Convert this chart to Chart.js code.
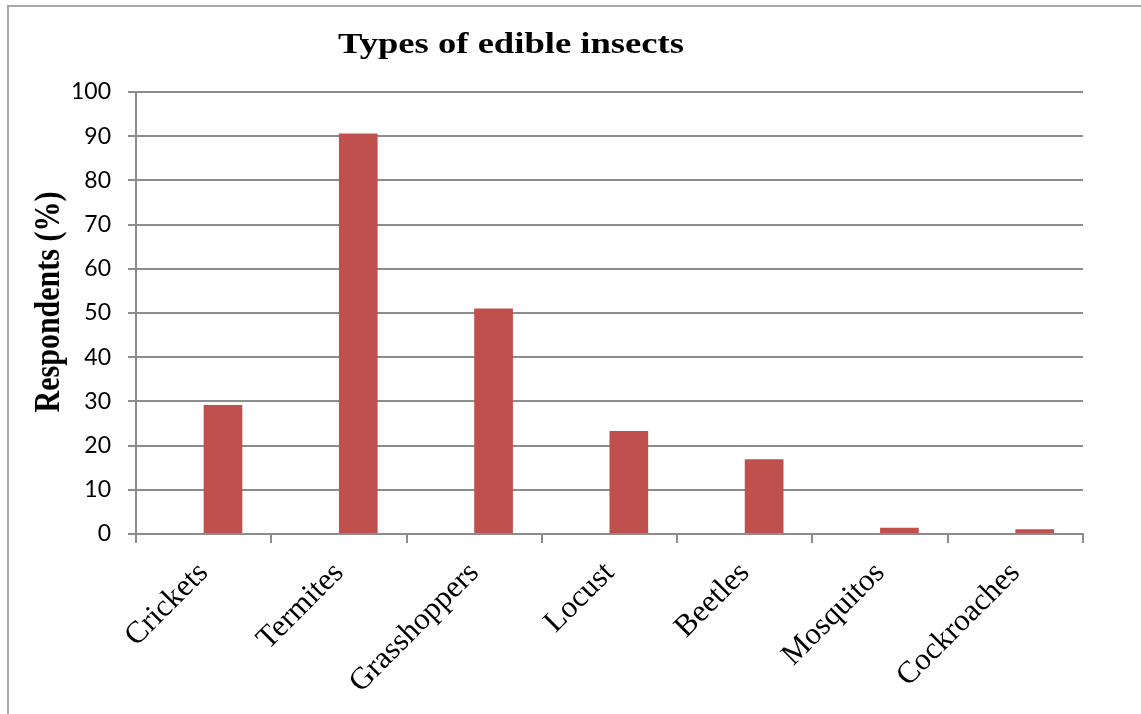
<!DOCTYPE html>
<html>
<head>
<meta charset="utf-8">
<title>Types of edible insects</title>
<script src="https://cdn.jsdelivr.net/npm/chart.js@4/dist/chart.umd.min.js"></script>
<style>
  html, body { margin: 0; padding: 0; background: #fff; overflow: hidden; }
  #wrap { position: relative; width: 1141px; height: 714px; }
  #frame {
    position: absolute; left: 7px; top: 5px; width: 1400px; height: 1000px;
    border-left: 2px solid #a8a8a8; border-top: 2px solid #a8a8a8;
  }
  canvas { position: absolute; left: 0; top: 0; }
</style>
</head>
<body>
<div id="wrap">
  <div id="frame"></div>
  <canvas id="chart" width="1141" height="714"></canvas>
</div>
<script>
// Share of respondents who eat each insect type
const categories = ['Crickets', 'Termites', 'Grasshoppers', 'Locust', 'Beetles', 'Mosquitos', 'Cockroaches'];
const respondentsPct = [29.2, 90.6, 51.0, 23.3, 16.9, 1.4, 1.1];
// empty companion series that holds the left half of each group
const emptySeries = [null, null, null, null, null, null, null];
const yTicks = [0, 10, 20, 30, 40, 50, 60, 70, 80, 90, 100];

const chartTitle = 'Types of edible insects';
const yTitle = 'Respondents (%)';

const gridGray = '#8c8c8c';
const serif = '"Liberation Serif", "Times New Roman", serif';
const wideText = 1.22; // the heading text is set horizontally widened

// Chart heading and the y-axis title, both drawn in the widened bold serif
const titlePlugin = {
  id: 'wideTitles',
  afterDraw(chart) {
    const ctx = chart.ctx;
    const area = chart.chartArea;
    ctx.save();
    ctx.font = 'bold 30px ' + serif;
    ctx.fillStyle = '#000';
    ctx.textAlign = 'center';
    ctx.textBaseline = 'alphabetic';

    ctx.save();
    ctx.translate(511, 53);
    ctx.scale(wideText, 1);
    ctx.fillText(chartTitle, 0, 0);
    ctx.restore();

    ctx.save();
    ctx.translate(59, (area.top + area.bottom) / 2 - 11);
    ctx.scale(wideText, 1);
    ctx.rotate(-Math.PI / 2);
    ctx.fillText(yTitle, 0, 0);
    ctx.restore();

    ctx.restore();
  }
};

new Chart(document.getElementById('chart'), {
  type: 'bar',
  data: {
    labels: categories,
    datasets: [
      { label: '', data: emptySeries, backgroundColor: '#4F81BD' },
      { label: 'Respondents', data: respondentsPct, backgroundColor: '#C0504D',
        borderColor: '#C0504D', borderWidth: 0 }
    ]
  },
  options: {
    responsive: false,
    animation: false,
    events: [],
    layout: { padding: { left: 0, right: 58, top: 92, bottom: 0 } },
    datasets: { bar: { categoryPercentage: 0.572, barPercentage: 1.0 } },
    plugins: {
      legend: { display: false },
      title: { display: false },
      tooltip: { enabled: false }
    },
    scales: {
      x: {
        offset: true,
        grid: {
          offset: true,
          drawOnChartArea: false,
          drawTicks: true,
          tickLength: 9,
          color: gridGray,
          lineWidth: 2
        },
        border: { display: true, color: gridGray, width: 2 },
        ticks: {
          color: '#000',
          font: { family: serif, size: 31 },
          maxRotation: 45,
          minRotation: 45,
          padding: 12,
          autoSkip: false
        },
        afterFit(scale) { scale.height = 180; }
      },
      y: {
        min: 0,
        max: 100,
        afterBuildTicks(scale) { scale.ticks = yTicks.map(v => ({ value: v })); },
        grid: {
          color: gridGray,
          lineWidth: 2,
          drawTicks: true,
          tickLength: 8
        },
        border: { display: true, color: gridGray, width: 2 },
        ticks: {
          color: '#000',
          font: { family: 'Lato, "Open Sans", sans-serif', size: 23 },
          padding: 17
        },
        title: { display: false },
        afterFit(scale) { scale.width = 136; }
      }
    }
  },
  plugins: [titlePlugin]
});
</script>
</body>
</html>
